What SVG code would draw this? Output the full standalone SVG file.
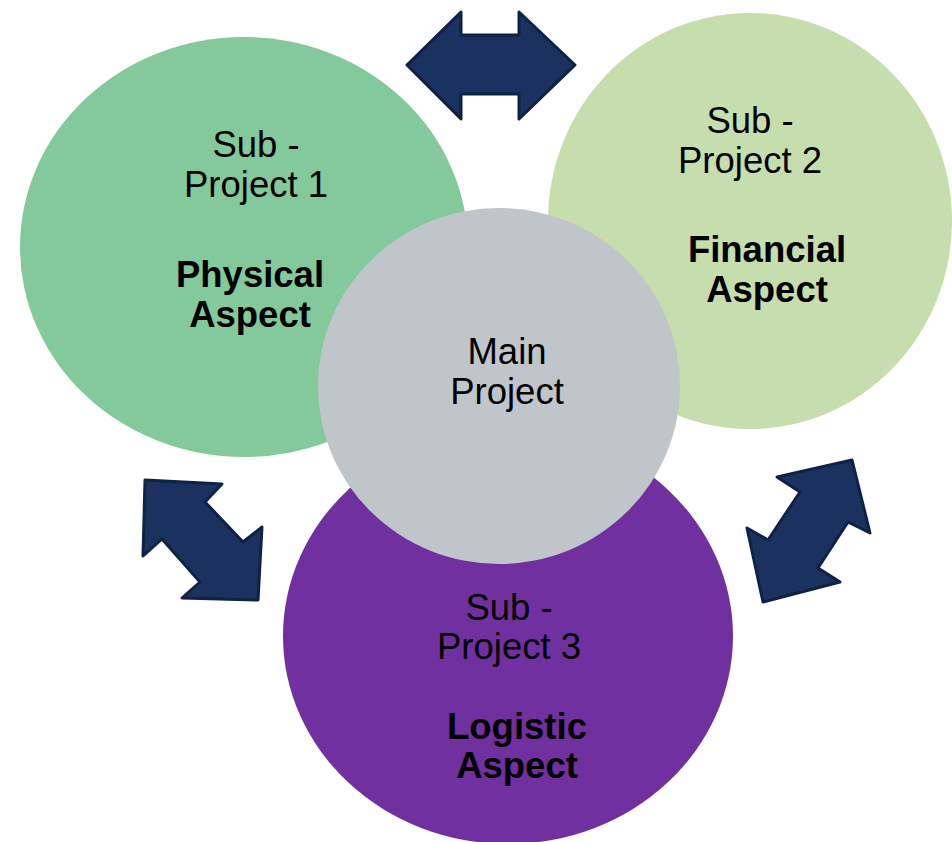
<svg xmlns="http://www.w3.org/2000/svg" width="952" height="842" viewBox="0 0 952 842">
<style>
.t{font-family:"Liberation Sans",Arial,sans-serif;font-size:36.5px;fill:#000;text-anchor:middle}
.b{font-weight:bold}
.arr{fill:#1B315F;stroke:#0F2246;stroke-width:3;stroke-linejoin:round}
</style>
<rect width="952" height="842" fill="#fff"/>
<g id="sub1">
<ellipse cx="244" cy="247" rx="224" ry="210" fill="#84C99B"/>
<text class="t" x="256" y="157">Sub -</text>
<text class="t" x="256" y="197">Project 1</text>
<text class="t b" x="250" y="287">Physical</text>
<text class="t b" x="250" y="327">Aspect</text>
</g>
<g id="sub2">
<ellipse cx="750" cy="221" rx="202" ry="208" fill="#C6DDAE"/>
<text class="t" x="750" y="133">Sub -</text>
<text class="t" x="750" y="173">Project 2</text>
<text class="t b" x="767" y="262">Financial</text>
<text class="t b" x="767" y="302">Aspect</text>
</g>
<g id="sub3">
<ellipse cx="508" cy="636" rx="225" ry="208" fill="#7030A0"/>
<text class="t" x="509" y="620">Sub -</text>
<text class="t" x="509" y="659">Project 3</text>
<text class="t b" x="517" y="739">Logistic</text>
<text class="t b" x="517" y="778">Aspect</text>
</g>
<g id="main">
<ellipse cx="499" cy="386" rx="181" ry="178" fill="#C0C5C9"/>
<text class="t" x="507" y="364">Main</text>
<text class="t" x="507" y="404">Project</text>
</g>
<g id="connectors">
<polygon class="arr" points="407,65 461,12 461,35 519,35 519,12 575,65 519,119 519,94 461,94 461,119"/>
<polygon class="arr" points="145,480 222,484 205,502 243,542 262,527 258,600 182,598 200,582 162,539 143,556"/>
<polygon class="arr" points="852,460 870,533 848,522 818,568 840,582 763,602 747,528 768,540 800,492 777,477"/>
</g>
</svg>
